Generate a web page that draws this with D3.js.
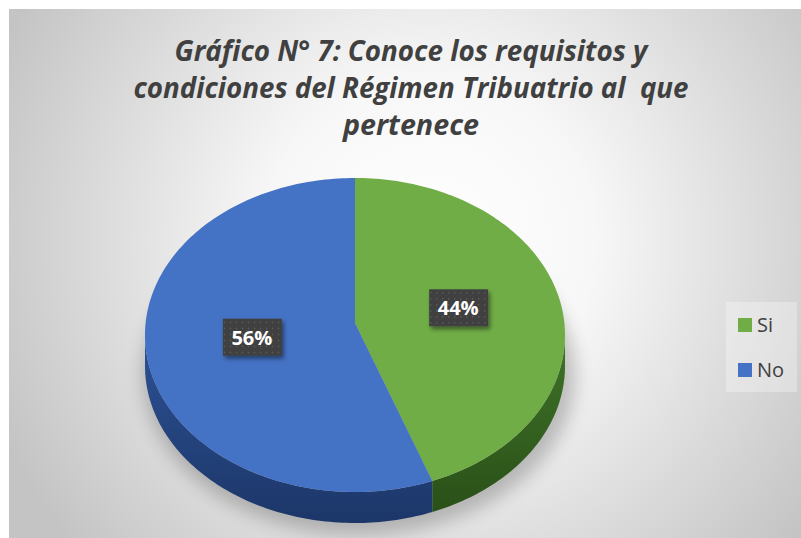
<!DOCTYPE html>
<html>
<head>
<meta charset="utf-8">
<script src="https://cdn.jsdelivr.net/npm/d3@7/dist/d3.min.js"></script>
<style>
  html, body { margin: 0; padding: 0; background: #fff; }
  svg { display: block; }
</style>
</head>
<body>
<div id="chart"></div>
<script>
// data
var categories = ["Si", "No"];
var values = [44, 56];
var colors = ["#70ad47", "#4472c4"];
var sideColors = [["#3f7328", "#2a5018"], ["#2d5296", "#1c3668"]];
var titleLines = ["Gráfico N° 7: Conoce los requisitos y",
                  "condiciones del Régimen Tribuatrio al  que",
                  "pertenece"];

var W = 801, H = 538;
var svg = d3.select('#chart').append('svg')
    .attr('width', W).attr('height', H);

var defs = svg.append('defs');

var bg = defs.append('radialGradient').attr('id', 'bg')
    .attr('gradientUnits', 'userSpaceOnUse')
    .attr('cx', 430).attr('cy', 240).attr('r', 470);
bg.append('stop').attr('offset', '0%').attr('stop-color', '#ffffff');
bg.append('stop').attr('offset', '35%').attr('stop-color', '#f7f7f7');
bg.append('stop').attr('offset', '100%').attr('stop-color', '#c4c4c4');

var blur = defs.append('filter').attr('id', 'blur')
    .attr('x', '-20%').attr('y', '-20%').attr('width', '140%').attr('height', '140%');
blur.append('feGaussianBlur').attr('stdDeviation', 9);

var lblShadow = defs.append('filter').attr('id', 'lblshadow')
    .attr('x', '-30%').attr('y', '-30%').attr('width', '160%').attr('height', '160%');
lblShadow.append('feDropShadow').attr('dx', 2).attr('dy', 3)
    .attr('stdDeviation', 2).attr('flood-color', '#000').attr('flood-opacity', 0.45);

var dots = defs.append('pattern').attr('id', 'dots')
    .attr('patternUnits', 'userSpaceOnUse').attr('width', 6).attr('height', 6);
dots.append('rect').attr('width', 6).attr('height', 6).attr('fill', '#3f3f3f');
dots.append('rect').attr('x', 2).attr('y', 2).attr('width', 1.2).attr('height', 1.2).attr('fill', '#6a6a6a');

sideColors.forEach(function(c, i) {
    var g = defs.append('linearGradient').attr('id', 'side' + i)
        .attr('x1', 0).attr('y1', 0).attr('x2', 0).attr('y2', 1);
    g.append('stop').attr('offset', '0%').attr('stop-color', c[0]);
    g.append('stop').attr('offset', '100%').attr('stop-color', c[1]);
});

// chart area
svg.append('rect').attr('x', 9).attr('y', 9)
    .attr('width', W - 9).attr('height', H - 9)
    .attr('fill', 'url(#bg)');

// title
var title = svg.append('text')
    .attr('text-anchor', 'middle')
    .style('font-family', '"Open Sans", sans-serif')
    .style('font-style', 'italic')
    .style('font-weight', 'bold')
    .style('font-size', '29px')
    .style('white-space', 'pre')
    .attr('fill', '#404040');
var titleW = [473, 555, 136];
titleLines.forEach(function(t, i) {
    title.append('tspan')
        .attr('x', 411).attr('y', 61 + i * 37)
        .attr('textLength', titleW[i])
        .attr('lengthAdjust', 'spacingAndGlyphs')
        .text(t);
});

// 3d pie
var cx = 355, cy = 335, rx = 210, ry = 157, depth = 31, lift = 12;
var pie = d3.pie().sort(null).value(function(d) { return d; });
var arcs = pie(values);

function pt(a, dy) {
    return [cx + rx * Math.sin(a), cy - ry * Math.cos(a) + (dy || 0)];
}
function arcPts(a0, a1, dy) {
    var n = Math.max(2, Math.ceil(Math.abs(a1 - a0) / 0.02));
    return d3.range(n + 1).map(function(k) { return pt(a0 + (a1 - a0) * k / n, dy); });
}
var line = d3.line();

// shadow under pie
svg.append('ellipse')
    .attr('cx', cx + 4).attr('cy', cy + depth + 8)
    .attr('rx', rx + 6).attr('ry', ry + 4)
    .attr('fill', '#000').attr('opacity', 0.22)
    .attr('filter', 'url(#blur)');

// side walls (front half only: angle PI/2 .. 3PI/2)
arcs.forEach(function(d, i) {
    var a0 = Math.max(d.startAngle, Math.PI / 2);
    var a1 = Math.min(d.endAngle, 3 * Math.PI / 2);
    if (a1 <= a0) return;
    var top = arcPts(a0, a1, 0);
    var bot = arcPts(a1, a0, depth);
    svg.append('path')
        .attr('d', line(top.concat(bot)) + 'Z')
        .attr('fill', 'url(#side' + i + ')');
});

// top faces
var apex = [cx, cy - lift];
arcs.forEach(function(d, i) {
    var p = [apex].concat(arcPts(d.startAngle, d.endAngle, 0));
    svg.append('path')
        .attr('d', line(p) + 'Z')
        .attr('fill', colors[i]);
});

// data labels
var total = d3.sum(values);
arcs.forEach(function(d, i) {
    var m = (d.startAngle + d.endAngle) / 2;
    var x = apex[0] + 0.5 * rx * Math.sin(m);
    var y = apex[1] - 0.5 * ry * Math.cos(m);
    var g = svg.append('g').attr('transform', 'translate(' + x + ',' + y + ')');
    g.append('rect')
        .attr('x', -29).attr('y', -19).attr('width', 59).attr('height', 37)
        .attr('fill', 'url(#dots)')
        .attr('filter', 'url(#lblshadow)');
    g.append('text')
        .attr('text-anchor', 'middle').attr('y', 7)
        .style('font-family', '"Open Sans", sans-serif')
        .style('font-weight', 'bold')
        .style('font-size', '20px')
        .attr('fill', '#fff')
        .text(Math.round(values[i] / total * 100) + '%');
});

// legend
var lg = svg.append('g');
lg.append('rect').attr('x', 726).attr('y', 302).attr('width', 71).attr('height', 90)
    .attr('fill', '#fff').attr('opacity', 0.3);
categories.forEach(function(c, i) {
    var y = 325 + i * 45;
    lg.append('rect').attr('x', 738).attr('y', y - 7).attr('width', 14).attr('height', 14)
        .attr('fill', colors[i]);
    lg.append('text').attr('x', 757).attr('y', y + 7)
        .style('font-family', '"Open Sans", sans-serif')
        .style('font-size', '20px')
        .attr('fill', '#404040')
        .text(c);
});
</script>
</body>
</html>
